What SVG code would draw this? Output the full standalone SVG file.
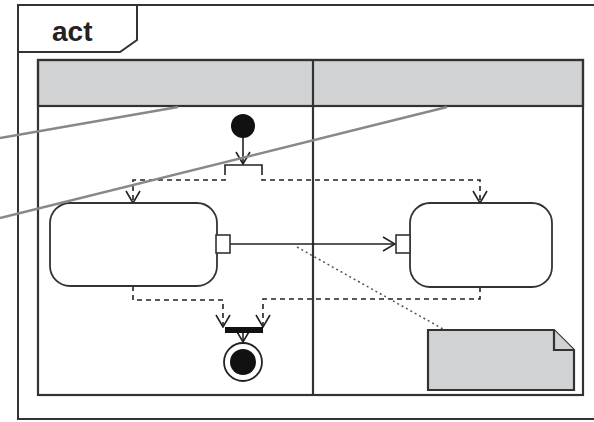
<svg xmlns="http://www.w3.org/2000/svg" width="594" height="422" viewBox="0 0 594 422">
<style>
.frame{fill:none;stroke:#333;stroke-width:2}
.lane{fill:none;stroke:#333;stroke-width:2.2}
.hdr{fill:#d1d2d4;stroke:#333;stroke-width:2.2}
.act{fill:#fff;stroke:#333;stroke-width:1.8}
.pin{fill:#fff;stroke:#333;stroke-width:1.6}
.flow{fill:none;stroke:#222;stroke-width:1.6}
.obj{fill:none;stroke:#222;stroke-width:1.6;stroke-dasharray:5,4}
.ptr{fill:none;stroke:#888;stroke-width:2.5}
.note{fill:#d1d2d4;stroke:#333;stroke-width:2.2}
.anc{fill:none;stroke:#555;stroke-width:1.5;stroke-dasharray:2,3}
.lbl{font-family:"Liberation Sans",Arial,sans-serif;font-weight:bold;font-size:28px;fill:#222}
</style>
<defs>
<marker id="open" viewBox="0 0 14 16" refX="13" refY="8" markerWidth="14" markerHeight="16" markerUnits="userSpaceOnUse" orient="auto">
<path d="M1,1 L13,8 L1,15" fill="none" stroke="#222" stroke-width="1.6"/>
</marker>
</defs>
<g id="frame">
<path class="frame" d="M600,5 H18 V419 H600"/>
<path class="frame" d="M18,52 H120 L137,40 V5"/>
<text class="lbl" x="52" y="41">act</text>
</g>
<g id="partitions">
<rect class="hdr" x="38" y="60" width="545" height="46"/>
<rect class="lane" x="38" y="60" width="545" height="335"/>
<line class="lane" x1="313" y1="60" x2="313" y2="395"/>
</g>
<g id="note">
<path class="note" d="M428,330 H554 L574,350 V390 H428 Z"/>
<path class="note" d="M554,330 V350 H574"/>
</g>
<g id="connectors">
<line class="flow" x1="243" y1="138" x2="243" y2="164" marker-end="url(#open)"/>
<path class="flow" d="M225,170 V165 H262 V170"/>
<path class="obj" d="M225,170 V180 H133 V203" marker-end="url(#open)"/>
<path class="obj" d="M262,170 V180 H480 V203" marker-end="url(#open)"/>
<line class="flow" x1="230" y1="244" x2="395" y2="244" marker-end="url(#open)"/>
<path class="obj" d="M133,286 V300 H223 V327" marker-end="url(#open)"/>
<path class="obj" d="M480,287 V299 H263 V327" marker-end="url(#open)"/>
<line class="flow" x1="243" y1="333" x2="243" y2="342" marker-end="url(#open)"/>
<line class="anc" x1="297" y1="247" x2="443" y2="329"/>
</g>
<g id="initial">
<circle cx="243" cy="126" r="12" fill="#111"/>
</g>
<g id="fork">
<rect x="225" y="327" width="38" height="6" fill="#111"/>
</g>
<g id="final">
<circle cx="243" cy="362" r="19" fill="#fff" stroke="#222" stroke-width="1.8"/>
<circle cx="243" cy="362" r="13" fill="#111"/>
</g>
<g id="action1">
<rect class="act" x="50" y="203" width="167" height="83" rx="20"/>
<rect class="pin" x="216" y="235" width="14" height="18"/>
</g>
<g id="action2">
<rect class="act" x="410" y="203" width="142" height="84" rx="20"/>
<rect class="pin" x="396" y="235" width="14" height="18"/>
</g>
<g id="pointers">
<line class="ptr" x1="0" y1="138" x2="178" y2="107"/>
<line class="ptr" x1="0" y1="218" x2="447" y2="107"/>
</g>
</svg>
